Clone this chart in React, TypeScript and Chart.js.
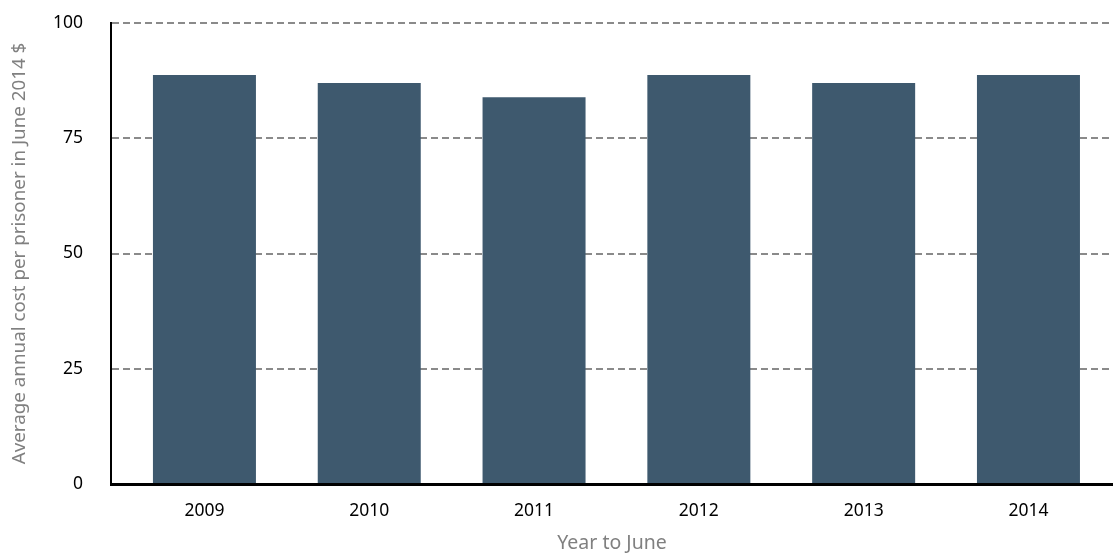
import React, { useEffect, useRef } from "react";
import { Chart, registerables } from "chart.js";

Chart.register(...registerables);

const categories = ["2009", "2010", "2011", "2012", "2013", "2014"];
const values = [88.7, 87.0, 83.9, 88.7, 87.0, 88.7];
const yTicks = [0, 25, 50, 75, 100];
const yTitle = "Average annual cost per prisoner in June 2014 $";
const xTitle = "Year to June";

const FAM = "'Noto Sans', sans-serif";

export default function App() {
  const ref = useRef<HTMLCanvasElement>(null);
  useEffect(() => {
    document.body.style.margin = "0";
    const ctx = ref.current!.getContext("2d")!;
    const chart = new Chart(ctx, {
      type: "bar",
      data: {
        datasets: [
          {
            data: values.map((v, i) => ({ x: i, y: v })),
            backgroundColor: "#3e596e",
            borderWidth: 0,
            barPercentage: 0.625,
            categoryPercentage: 1,
          },
        ],
      },
      options: {
        animation: false,
        responsive: true,
        maintainAspectRatio: false,
        layout: { padding: { top: 23, right: 0, left: 8, bottom: 0 } },
        plugins: { legend: { display: false }, tooltip: { enabled: false } },
        scales: {
          x: {
            type: "linear",
            offset: false,
            min: -0.567,
            max: 5.513,
            afterBuildTicks: (axis: any) => {
              axis.ticks = categories.map((_, i) => ({ value: i }));
            },
            afterFit: (s: any) => {
              s.height = 70;
              s.paddingLeft = 0;
              s.paddingRight = 0;
            },
            ticks: {
              callback: (v: any) => categories[v] ?? "",
              color: "#000",
              font: { family: FAM, size: 17.5 },
              padding: 17,
              maxRotation: 0,
              autoSkip: false,
            },
            grid: { display: false, drawTicks: false, offset: false },
            border: { display: true, color: "#000", width: 3 },
            title: {
              display: true,
              text: xTitle,
              color: "#808080",
              font: { family: FAM, size: 19.5, lineHeight: 1 },
              padding: { top: 0, bottom: 1 },
            },
          },
          y: {
            min: 0,
            max: 100,
            afterBuildTicks: (axis: any) => {
              axis.ticks = yTicks.map((v) => ({ value: v }));
            },
            afterFit: (s: any) => {
              s.width = 103;
              s.paddingTop = 0;
              s.paddingBottom = 0;
            },
            ticks: {
              color: "#000",
              font: { family: FAM, size: 17.5 },
              padding: 28,
            },
            grid: { color: "#8a8a8a", lineWidth: 2, drawTicks: false },
            border: { display: true, color: "#000", width: 2, dash: [7, 4] },
            title: {
              display: true,
              text: yTitle,
              color: "#808080",
              font: { family: FAM, size: 18.8 },
              padding: { top: 0, bottom: 6 },
            },
          },
        },
      },
    });
    return () => chart.destroy();
  }, []);
  return (
    <div style={{ position: "relative", width: 1113, height: 554 }}>
      <canvas ref={ref} />
    </div>
  );
}
